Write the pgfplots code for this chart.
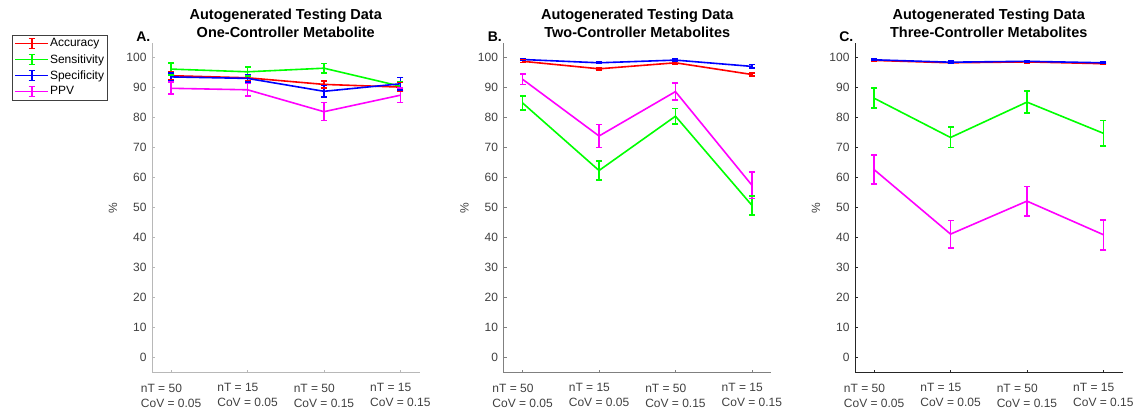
\documentclass[border=0pt]{standalone}
\usepackage{pgfplots}
\pgfplotsset{compat=1.18}
\usepackage{pgfplotstable}
\usepackage{fontspec}
\setmainfont{Liberation Sans}

% mean of each metric, per experiment setting
\pgfplotstableread{
x acc sen spe ppv
1 94.0 96.2 93.6 89.8
2 93.3 95.3 93.1 89.3
3 91.1 96.5 88.8 82.0
4 90.2 90.5 91.3 87.5
}\meanA
\pgfplotstableread{
x acc sen spe ppv
1 98.8 84.9 99.4 92.8
2 96.3 62.4 98.3 73.9
3 98.3 80.5 99.2 88.7
4 94.4 50.8 97.1 57.5
}\meanB
\pgfplotstableread{
x acc sen spe ppv
1 99.1 86.5 99.3 62.7
2 98.3 73.4 98.5 41.2
3 98.6 85.2 98.8 52.2
4 98.0 74.8 98.3 41.0
}\meanC
% error bar ends (lower, upper), one segment per setting
\pgfplotstableread{
x acc sen spe ppv
1 92.6 94.2 92.3 87.8
1 95.4 98.2 94.9 91.8
1 nan nan nan nan
2 92.3 93.8 91.8 87.2
2 94.3 96.8 94.4 91.4
2 nan nan nan nan
3 89.9 94.9 86.9 79.0
3 92.3 98.1 90.7 85.0
3 nan nan nan nan
4 88.7 89.0 89.2 85.1
4 91.7 92.0 93.4 89.9
}\barsA
\pgfplotstableread{
x acc sen spe ppv
1 98.4 82.6 99.1 91.0
1 99.2 87.2 99.7 94.6
1 nan nan nan nan
2 95.9 59.2 98.0 70.1
2 96.7 65.6 98.6 77.7
2 nan nan nan nan
3 97.9 77.9 98.9 85.9
3 98.7 83.1 99.5 91.5
3 nan nan nan nan
4 93.9 47.6 96.5 53.1
4 94.9 54.0 97.7 61.9
}\barsB
\pgfplotstableread{
x acc sen spe ppv
1 98.8 83.2 99.0 57.9
1 99.4 89.8 99.6 67.5
1 nan nan nan nan
2 98.0 70.0 98.2 36.6
2 98.6 76.8 98.8 45.8
2 nan nan nan nan
3 98.3 81.5 98.5 47.3
3 98.9 88.9 99.1 57.1
3 nan nan nan nan
4 97.7 70.6 98.0 36.0
4 98.3 79.0 98.6 46.0
}\barsC

\definecolor{tickgray}{HTML}{404040}
\definecolor{cRed}{rgb}{1,0,0}
\definecolor{cGreen}{rgb}{0,1,0}
\definecolor{cBlue}{rgb}{0,0,1}
\definecolor{cMag}{rgb}{1,0,1}

\pgfplotsset{
  ser/.style={color=#1, line width=1.6pt, mark=none},
  errbar/.style={color=#1, line width=1.6pt, mark=-, mark size=3pt,
    mark options={solid, line width=1.6pt}, forget plot,
    unbounded coords=jump},
  panel/.style={
    scale only axis, width=267.5pt, height=330pt,
    anchor=south west,
    xmin=0.75, xmax=4.25, ymin=-5, ymax=105,
    axis lines=left, axis line style={-, line width=0.8pt, draw=#1},
    tick style={draw=#1, line width=0.6pt},
    tick align=inside, major tick length=3pt,
    xtick={1,2,3,4},
    xticklabels={{nT = 50\\CoV = 0.05},{nT = 15\\CoV = 0.05},{nT = 50\\CoV = 0.15},{nT = 15\\CoV = 0.15}},
    ytick={0,10,...,100},
    /pgf/number format/assume math mode=true,
    ticklabel style={font=\fontsize{12}{15}\selectfont, text=tickgray},
    xticklabel style={align=left, yshift=-7.5pt},
    yticklabel style={xshift=-2pt},
    ylabel={\%},
    ylabel style={font=\fontsize{12}{14}\selectfont, text=tickgray,
      at={(axis description cs:-0.146,0.5)}, anchor=center},
    title style={font=\fontsize{14.5}{18}\selectfont\bfseries, align=center,
      at={(axis description cs:0.5,1)}, anchor=south, yshift=-4pt},
    clip=false,
  },
}

% one metric: mean line, then its error bars
\newcommand\metric[4]{%
  \addplot[ser=#4] table[x=x, y=#3] {#1};
  \addplot[errbar=#4] table[x=x, y=#3] {#2};
}

\begin{document}
\begin{tikzpicture}
\path[use as bounding box] (0,0) rectangle (1143pt,410pt);

\begin{axis}[panel={black!28}, at={(152pt,37.3pt)},
  title={Autogenerated Testing Data\\One-Controller Metabolite},
  legend style={at={(axis description cs:-0.165,1.024)}, anchor=north east,
    draw=black!75, line width=0.6pt, font=\fontsize{12}{14}\selectfont,
    row sep=4pt, inner sep=2.5pt,
    nodes={inner sep=1pt}},
  legend cell align=left,
  legend image code/.code={
    \draw[#1, mark=none, line width=1.6pt]
      (0pt,0pt) -- (33pt,0pt)
      (16.5pt,-5pt) -- (16.5pt,5pt)
      (13.5pt,-5pt) -- (19.5pt,-5pt)
      (13.5pt,5pt) -- (19.5pt,5pt);
  },
]
\node[font=\fontsize{14}{16}\selectfont\bfseries, anchor=base west]
  at (axis description cs:-0.072,1.004) {A.};
\metric{\meanA}{\barsA}{acc}{cRed}
\addlegendentry{Accuracy}
\metric{\meanA}{\barsA}{sen}{cGreen}
\addlegendentry{Sensitivity}
\metric{\meanA}{\barsA}{spe}{cBlue}
\addlegendentry{Specificity}
\metric{\meanA}{\barsA}{ppv}{cMag}
\addlegendentry{PPV}
\end{axis}

\begin{axis}[panel={black!50}, at={(503.5pt,37.3pt)},
  title={Autogenerated Testing Data\\Two-Controller Metabolites}]
\node[font=\fontsize{14}{16}\selectfont\bfseries, anchor=base west]
  at (axis description cs:-0.072,1.004) {B.};
\metric{\meanB}{\barsB}{acc}{cRed}
\metric{\meanB}{\barsB}{sen}{cGreen}
\metric{\meanB}{\barsB}{spe}{cBlue}
\metric{\meanB}{\barsB}{ppv}{cMag}
\end{axis}

\begin{axis}[panel={black!85}, at={(855pt,37.3pt)},
  title={Autogenerated Testing Data\\Three-Controller Metabolites}]
\node[font=\fontsize{14}{16}\selectfont\bfseries, anchor=base west]
  at (axis description cs:-0.072,1.004) {C.};
\metric{\meanC}{\barsC}{acc}{cRed}
\metric{\meanC}{\barsC}{sen}{cGreen}
\metric{\meanC}{\barsC}{spe}{cBlue}
\metric{\meanC}{\barsC}{ppv}{cMag}
\end{axis}
\end{tikzpicture}
\end{document}
